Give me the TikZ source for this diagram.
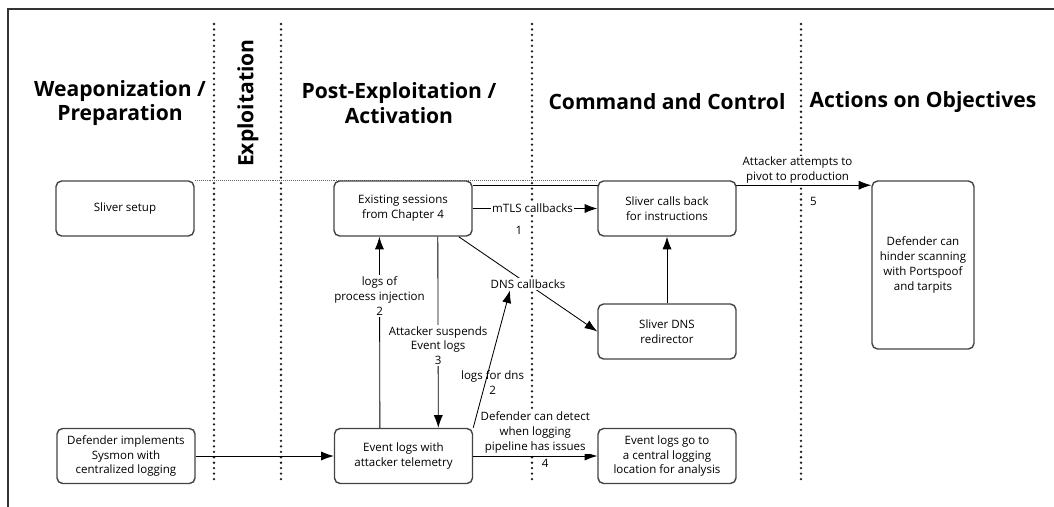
\documentclass[tikz,border=0pt]{standalone}
\usepackage{fontspec}
\setmainfont{Open Sans}
\usepackage{tikz}
\usetikzlibrary{arrows.meta,positioning,backgrounds}
\definecolor{FrameGrey}{HTML}{333333}
\definecolor{BoxGrey}{HTML}{444444}
\definecolor{DotGrey}{HTML}{1A1A1A}
\tikzset{
  stagebox/.style={draw=BoxGrey,line width=1pt,rounded corners=4pt,fill=white,align=center,
    minimum width=3.45cm,minimum height=1.375cm,inner sep=2pt,font=\fontsize{8.2}{10.6}\selectfont},
  phase/.style={align=center,font=\fontsize{15}{17.7}\selectfont\bfseries},
  lbl/.style={fill=white,inner sep=1pt,align=center,font=\fontsize{8.2}{10.6}\selectfont},
  flow/.style={line width=0.6pt,-{Latex[length=9pt,width=6.5pt]}},
  lane/.style={DotGrey,line width=1.8pt,dash pattern=on 0pt off 3.9pt,line cap=round},
}

\begin{document}
\begin{tikzpicture}[x=0.025cm,y=-0.025cm,>=Latex]
    \useasboundingbox (0,0) rectangle (1054,507);
    \draw[FrameGrey,line width=1pt] (8,507)--(8,9)--(1054,9);
    % kill chain phases
    \node[phase] (prep) at (120,103) {Weaponization /\\Preparation};
    \node[phase,rotate=90] (expl) at (248,103) {Exploitation};
    \node[phase] (post) at (399,103) {Post-Exploitation /\\Activation};
    \node[phase] (ctrl) at (667,102) {Command and Control};
    \node[phase] (objectives) at (923,102) {Actions on Objectives};
    % steps
    \node[stagebox] (setup) at (125,208.5) {Sliver setup};
    \node[stagebox] (sessions) at (403,208.5) {Existing sessions\\from Chapter 4};
    \node[stagebox] (callback) at (667,208.5) {Sliver calls back\\for instructions};
    \node[stagebox] (redirector) at (667,331.5) {Sliver DNS\\redirector};
    \node[stagebox,minimum width=2.55cm,minimum height=4.2cm] (hinder) at (923,265) {Defender can\\hinder scanning\\with Portspoof\\and tarpits};
    \node[stagebox] (sysmon) at (126,456) {Defender implements\\Sysmon with\\centralized logging};
    \node[stagebox] (telemetry) at (403.5,456) {Event logs with\\attacker telemetry};
    \node[stagebox] (central) at (667,456) {Event logs go to\\a central logging\\location for analysis};
    \begin{scope}[on background layer]
      \foreach \x in {214,281,532,801}
        \draw[lane] (\x,24)--(\x,484);
      \draw[black!60,thin,densely dotted] (setup.north east)--(callback.north west);
      \draw[flow] ([yshift=-3.5pt]sessions.north east) -- node[lbl,above,pos=0.815]{Attacker attempts to\\pivot to production} node[lbl,pos=0.855,yshift=-0.4cm]{5} ([yshift=-3.5pt]sessions.north east -| hinder.west);
    \end{scope}
    % connectors
    \draw[flow] (sessions) -- node[lbl,pos=0.48] (mtls) {mTLS callbacks} node[lbl,pos=0.37,yshift=-0.55cm]{1} (callback);
    \draw[flow] ([xshift=-0.59cm]telemetry.north) -- node[lbl,pos=0.69]{logs of\\process injection\\2} ([xshift=-0.59cm]sessions.south);
    \draw[flow] ([xshift=0.87cm]sessions.south) -- node[lbl,pos=0.57]{Attacker suspends\\Event logs\\3} ([xshift=0.87cm]telemetry.north);
    \draw[flow] ([xshift=-0.35cm]sessions.south east) -- node[lbl,pos=0.5] (dnscb) {DNS callbacks} (redirector.west);
    \draw[flow] (telemetry.north east) -- node[lbl,fill=none,pos=0.33,xshift=0.18cm]{logs for dns\\2} ([xshift=-0.45cm]dnscb.south);
    \draw[flow] (sysmon) -- (telemetry);
    \draw[flow] (telemetry) -- node[lbl,above=1pt]{Defender can detect\\when logging\\pipeline has issues} node[lbl,pos=0.58,below=1pt]{4} (central);
    \draw[flow] (redirector) -- (callback);
  \end{tikzpicture}
\end{document}
